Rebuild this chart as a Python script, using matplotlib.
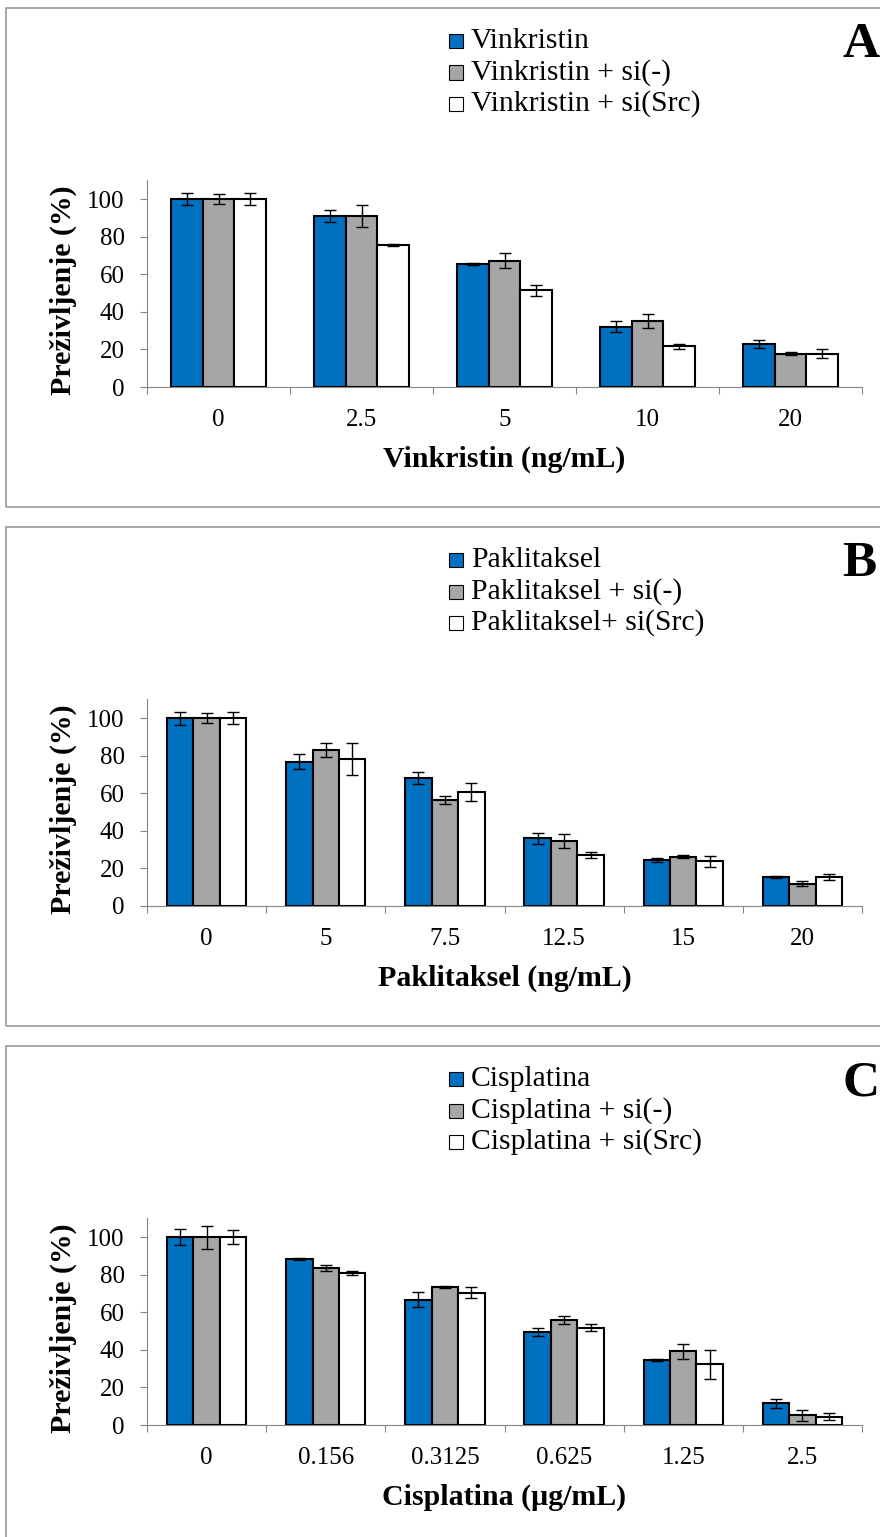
import matplotlib
matplotlib.use('Agg')
import matplotlib.pyplot as plt
import numpy as np
from matplotlib.patches import Rectangle

# ---------------- data ----------------
series_colors = ['#0070C0', '#A6A6A6', '#FFFFFF']

A_title = 'A'
A_xlabel = 'Vinkristin (ng/mL)'
A_cats = ['0', '2.5', '5', '10', '20']
A_names = ['Vinkristin', 'Vinkristin + si(-)', 'Vinkristin + si(Src)']
A_drug = [100, 91.1, 65.5, 32.2, 23.0]
A_neg = [100, 91.1, 67.1, 35.1, 17.8]
A_src = [100, 75.8, 51.4, 21.7, 17.8]
A_drug_err = [3.2, 3.0, 0.6, 3.0, 2.1]
A_neg_err = [2.5, 6.0, 4.0, 3.7, 0.8]
A_src_err = [3.2, 0.5, 2.9, 1.3, 2.5]

B_title = 'B'
B_xlabel = 'Paklitaksel (ng/mL)'
B_cats = ['0', '5', '7.5', '12.5', '15', '20']
B_names = ['Paklitaksel', 'Paklitaksel + si(-)', 'Paklitaksel+ si(Src)']
B_drug = [100, 76.8, 68.2, 36.1, 24.5, 15.5]
B_neg = [100, 83.0, 56.6, 34.6, 26.2, 11.8]
B_src = [100, 78.2, 60.9, 27.1, 23.8, 15.5]
B_drug_err = [3.4, 3.9, 3.0, 3.0, 1.2, 0.5]
B_neg_err = [2.5, 3.6, 2.1, 3.8, 0.9, 1.4]
B_src_err = [3.2, 8.4, 4.8, 1.6, 2.8, 1.6]

C_title = 'C'
C_xlabel = 'Cisplatina (µg/mL)'
C_cats = ['0', '0.156', '0.3125', '0.625', '1.25', '2.5']
C_names = ['Cisplatina', 'Cisplatina + si(-)', 'Cisplatina + si(Src)']
C_drug = [100, 88.4, 66.8, 49.7, 34.8, 11.6]
C_neg = [100, 83.8, 73.6, 56.0, 39.2, 5.2]
C_src = [100, 80.9, 70.4, 51.9, 32.3, 4.5]
C_drug_err = [4.1, 0.4, 3.9, 2.1, 0.5, 2.3]
C_neg_err = [6.2, 1.6, 0.5, 2.0, 3.9, 3.0]
C_src_err = [3.6, 1.3, 3.0, 2.0, 7.7, 1.9]

ylabel = 'Preživljenje (%)'
yticks = [0, 20, 40, 60, 80, 100]

panels = [
    (A_title, A_xlabel, A_cats, A_names, [A_drug, A_neg, A_src], [A_drug_err, A_neg_err, A_src_err]),
    (B_title, B_xlabel, B_cats, B_names, [B_drug, B_neg, B_src], [B_drug_err, B_neg_err, B_src_err]),
    (C_title, C_xlabel, C_cats, C_names, [C_drug, C_neg, C_src], [C_drug_err, C_neg_err, C_src_err]),
]

# ---------------- layout ----------------
plt.rcParams['font.family'] = ['Liberation Serif', 'DejaVu Serif']
W, H = 880, 1537
fig = plt.figure(figsize=(W / 100, H / 100), dpi=100)

def fx(x):
    return x / W

def fy(y):
    return 1 - y / H

AXIS_GRAY = '#868686'
barw = 1 / 4.5

for k, (title, xlabel, cats, names, vals, errs) in enumerate(panels):
    off = 519 * k
    # panel frame
    fig.patches.append(Rectangle((fx(6), fy(507 + off)), 1.2, 499 / H,
                                 transform=fig.transFigure, fill=False,
                                 ec='#a0a0a0', lw=1.3, zorder=0))
    ax = fig.add_axes([fx(147), fy(387 + off), 715 / W, (387 - 180.4) / H])
    n = len(cats)
    x = np.arange(n)
    for j in range(3):
        pos = x + (j - 1) * barw
        ax.bar(pos, vals[j], width=barw, color=series_colors[j],
               edgecolor='black', linewidth=1.5, zorder=2)
        ax.errorbar(pos, vals[j], yerr=errs[j], fmt='none', ecolor='black',
                    elinewidth=1.0, capsize=4.5, capthick=1.0, zorder=3)
    ax.set_xlim(-0.5, n - 0.5)
    ax.set_ylim(0, 110)
    ax.set_yticks(yticks)
    ax.set_yticklabels([str(t) for t in yticks], fontsize=18)
    ax.tick_params(axis='y', direction='out', length=5, width=0.8,
                   color=AXIS_GRAY, pad=11)
    ax.set_xticks(np.arange(n + 1) - 0.5)
    ax.set_xticklabels([])
    ax.tick_params(axis='x', which='major', direction='out', length=5,
                   width=0.8, color=AXIS_GRAY)
    ax.set_xticks(x, minor=True)
    ax.set_xticklabels(cats, minor=True, fontsize=18)
    ax.tick_params(axis='x', which='minor', length=0, pad=16)
    for s in ['top', 'right']:
        ax.spines[s].set_visible(False)
    for s in ['left', 'bottom']:
        ax.spines[s].set_color(AXIS_GRAY)
        ax.spines[s].set_linewidth(0.8)
    ax.patch.set_alpha(0)

    # axis labels
    ax.annotate(xlabel, xy=(0.5, 0), xycoords='axes fraction',
                xytext=(0, -80 * 0.72), textcoords='offset points',
                ha='center', va='baseline', fontsize=21.5, fontweight='bold')
    ax.annotate(ylabel, xy=(0, 0.47), xycoords='axes fraction',
                xytext=(-84 * 0.72, 0), textcoords='offset points',
                ha='center', va='center', rotation=90,
                fontsize=21.5, fontweight='bold')

    # legend (Excel style)
    for j in range(3):
        base = 48 + 31.5 * j + off
        fig.patches.append(Rectangle((fx(448.5), fy(base)), 14 / W, 14 / H,
                                     transform=fig.transFigure,
                                     fc=series_colors[j], ec='black', lw=0.8))
        fig.text(fx(471), fy(base), names[j], fontsize=21.3,
                 va='baseline', ha='left')

    # panel letter
    fig.text(fx(842), fy(57 + off), title, fontsize=37, fontweight='bold',
             va='baseline', ha='left')

fig.savefig('out.png', dpi=100)
